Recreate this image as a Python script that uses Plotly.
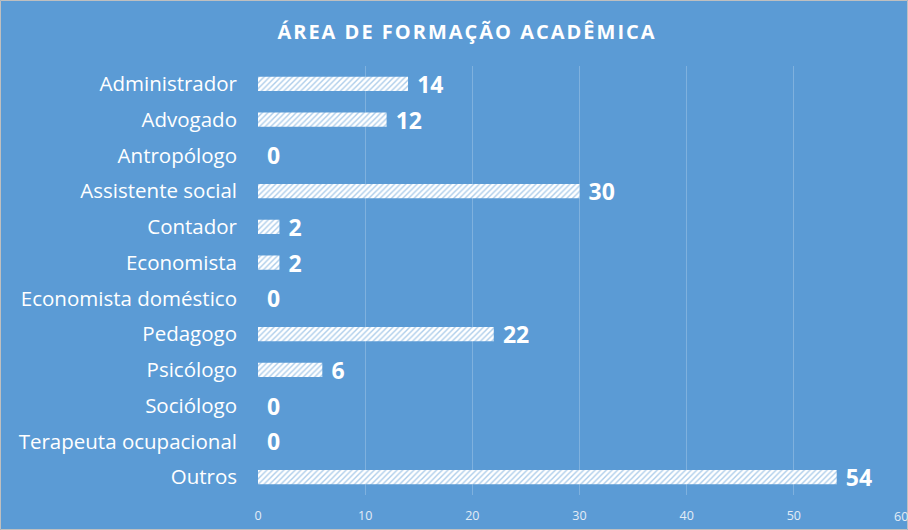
import plotly.graph_objects as go

categories = ["Administrador", "Advogado", "Antropólogo", "Assistente social", "Contador",
              "Economista", "Economista doméstico", "Pedagogo", "Psicólogo", "Sociólogo",
              "Terapeuta ocupacional", "Outros"]
values = [14, 12, 0, 30, 2, 2, 0, 22, 6, 0, 0, 54]
x_ticks = [0, 10, 20, 30, 40, 50, 60]
title_text = "ÁREA DE FORMAÇÃO ACADÊMICA"

BG = "#5B9BD5"
TICK_FONT = dict(family="Open Sans", size=12.5, color="#E3ECF6")
spaced_title = "\u200a".join(title_text)

fig = go.Figure(go.Bar(
    y=categories, x=values, orientation="h",
    text=["\u2009\u200a" + str(v) for v in values], textposition="outside", cliponaxis=False,
    constraintext="none",
    textfont=dict(family="Open Sans", size=23, color="white", weight="bold"),
    marker=dict(color="white", line=dict(width=0),
                pattern=dict(shape="/", fgcolor=BG, bgcolor="white", size=4, solidity=0.35)),
))

fig.update_layout(
    width=908, height=530,
    paper_bgcolor=BG, plot_bgcolor=BG,
    margin=dict(l=258, r=7, t=66, b=35),
    bargap=0.6,
    showlegend=False,
    title=dict(text=spaced_title, x=466 / 908, xref="container", xanchor="center",
               y=1 - 32 / 530, yref="container", yanchor="middle",
               font=dict(family="Open Sans", size=20, color="white", weight="bold")),
    xaxis=dict(range=[0, 60], tickvals=x_ticks, showgrid=True, automargin=False,
               gridcolor="rgba(255,255,255,0.22)", gridwidth=1, zeroline=False,
               tickfont=TICK_FONT, ticks="",
               showline=False, fixedrange=True, ticklabelstandoff=11),
    yaxis=dict(autorange="reversed", automargin=False,
               tickfont=dict(family="Open Sans", size=20.5, color="white"),
               ticks="", showline=False, showgrid=False, ticklabelstandoff=20),
)

# last tick label (partly cut at the right edge, as in the reference)
fig.add_annotation(x=x_ticks[-1], xref="x", y=0, yref="paper", yshift=-21,
                   text=str(x_ticks[-1]), showarrow=False, font=TICK_FONT,
                   xanchor="center", yanchor="middle")

fig.add_shape(type="rect", xref="paper", yref="paper",
              x0=-257.5 / 643, x1=(643 + 6.5) / 643, y0=-34.5 / 429, y1=(429 + 65.5) / 429,
              line=dict(color="#BFBFBF", width=1), fillcolor="rgba(0,0,0,0)", layer="below")

fig.write_html("out.html", config={"displayModeBar": False},
               post_script="document.body.style.margin='0';document.body.style.overflow='hidden';")
